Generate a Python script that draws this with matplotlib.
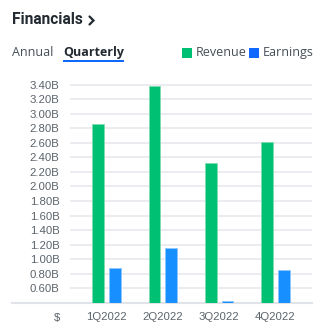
import matplotlib
matplotlib.use("Agg")
import matplotlib.pyplot as plt
import matplotlib.patches as mpatches
from matplotlib.lines import Line2D
import numpy as np

categories = ['1Q2022', '2Q2022', '3Q2022', '4Q2022']
revenue = [2.865, 3.38, 2.32, 2.61]
earnings = [0.875, 1.155, 0.43, 0.855]
yticks = [0.6, 0.8, 1.0, 1.2, 1.4, 1.6, 1.8, 2.0, 2.2, 2.4, 2.6, 2.8, 3.0, 3.2, 3.4]

W, H = 324, 333
fig = plt.figure(figsize=(W / 100, H / 100), dpi=100)
fig.patch.set_facecolor('white')

def fx(px):
    return px / W

def fy(py):
    return 1 - py / H

GREEN = '#00c073'
BLUE_BAR = '#188fff'
BLUE_LEG = '#0f69ff'
GRID = '#e6e9ee'
LABEL = '#5b636a'
DARK = '#232a31'

ax_left, ax_right = 70, 312
y_top_px, y_bot_px = 77.4, 302.8
ax = fig.add_axes([fx(ax_left), fy(y_bot_px), (ax_right - ax_left) / W, (y_bot_px - y_top_px) / H])
ax.set_facecolor('white')

x = np.arange(len(categories))
off, bw = 0.149, 0.208
ax.bar(x - off, revenue, bw, color=GREEN, edgecolor='#7fdcb0', linewidth=0.6, zorder=3)
ax.bar(x + off, earnings, bw, color=BLUE_BAR, edgecolor='#8cc6ff', linewidth=0.6, zorder=3)

ax.set_xlim(-0.648, 3.648)
ax.set_ylim(0.40, 3.50)
ax.set_yticks(yticks)
ax.set_yticklabels([f'{v:.2f}B' for v in yticks], fontsize=8.2, color=LABEL, family='Liberation Sans')
ax.set_xticks(x)
ax.set_xticklabels(categories, fontsize=8.2, color=LABEL, family='Liberation Sans')
ax.tick_params(axis='both', length=0)
ax.tick_params(axis='y', pad=7.5)
ax.tick_params(axis='x', pad=6.5)
for s in ax.spines.values():
    s.set_visible(False)
ax.grid(axis='y', color=GRID, linewidth=1.2, zorder=0)
ax.set_axisbelow(True)

# baseline extending to left
ax.axhline(0.40, xmin=(12 - ax_left) / (ax_right - ax_left), xmax=1, color='#e0e3e8',
           linewidth=1.5, clip_on=False, zorder=2)

fig.text(fx(57), fy(318), '$', fontsize=8.2, color=LABEL, family='Liberation Sans',
         ha='center', va='center')

# header
fig.text(fx(12), fy(20), 'Financials', fontsize=11.2, fontweight='bold', color=DARK,
         family='Roboto', ha='left', va='center')
fig.add_artist(Line2D([fx(89.5), fx(93.5), fx(89.5)], [fy(16.5), fy(20.5), fy(24.5)],
                      transform=fig.transFigure, color=DARK, linewidth=1.6,
                      solid_capstyle='round', solid_joinstyle='miter'))

fig.text(fx(12), fy(52.5), 'Annual', fontsize=9, color='#464e56', family='Open Sans',
         ha='left', va='center')
fig.text(fx(63), fy(52.5), 'Quarterly', fontsize=9, fontweight='bold', color=DARK,
         family='Open Sans', ha='left', va='center')
fig.add_artist(mpatches.Rectangle((fx(63), fy(62)), fx(61), 2 / H, transform=fig.transFigure,
                                  color=BLUE_LEG, lw=0))

# legend
fig.add_artist(mpatches.Rectangle((fx(182), fy(57.5)), fx(10), 10 / H, transform=fig.transFigure,
                                  color=GREEN, lw=0))
fig.text(fx(196), fy(52.5), 'Revenue', fontsize=9, color='#464e56', family='Open Sans',
         ha='left', va='center')
fig.add_artist(mpatches.Rectangle((fx(249), fy(57.5)), fx(10), 10 / H, transform=fig.transFigure,
                                  color=BLUE_LEG, lw=0))
fig.text(fx(263), fy(52.5), 'Earnings', fontsize=9, color='#464e56', family='Open Sans',
         ha='left', va='center')

fig.savefig('out.png', dpi=100, facecolor='white')
